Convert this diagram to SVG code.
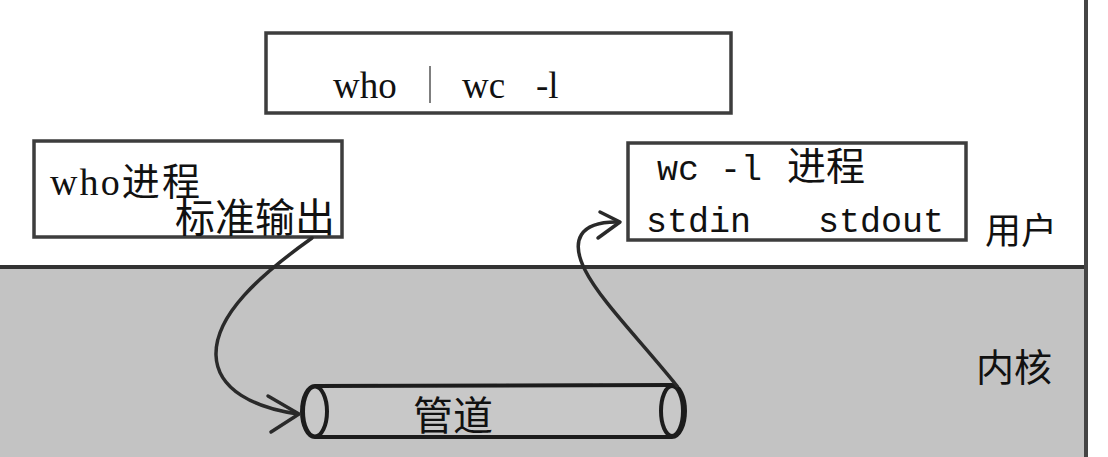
<svg xmlns="http://www.w3.org/2000/svg" width="1108" height="457" viewBox="0 0 1108 457">
<defs>
<style>
.box{fill:#fff;stroke:#3c3c3c;stroke-width:3.5}
.serif{font-family:"Liberation Serif","Noto Sans CJK SC",serif;fill:#111}
.mono{font-family:"Liberation Mono","Noto Sans CJK SC",monospace;fill:#111}
.cjk{font-family:"Noto Sans CJK SC","Noto Sans",sans-serif;fill:#111}
.wire{fill:none;stroke:#2a2a2a;stroke-width:3.5;stroke-linecap:round;stroke-linejoin:round}
</style>
<filter id="soft" x="-5%" y="-5%" width="110%" height="110%">
<feGaussianBlur stdDeviation="0.6"/>
</filter>
</defs>
<rect x="0" y="0" width="1108" height="457" fill="#ffffff"/>
<rect x="0" y="267" width="1086" height="190" fill="#c3c3c3"/>
<g id="divider" filter="url(#soft)">
<line x1="0" y1="267" x2="1086" y2="267" stroke="#333" stroke-width="4"/>
<line x1="1086" y1="0" x2="1086" y2="457" stroke="#444" stroke-width="4"/>
</g>
<g id="command">
<rect class="box" x="266" y="33" width="465" height="80" filter="url(#soft)"/>
<text class="serif" x="333" y="98" font-size="37">who</text>
<line x1="430" y1="66" x2="430" y2="103" stroke="#555" stroke-width="1.5"/>
<text class="serif" x="462" y="98" font-size="37">wc <tspan x="536">-l</tspan></text>
</g>
<g id="who-process">
<rect class="box" x="34" y="141" width="308" height="96" filter="url(#soft)"/>
<text class="serif" x="50" y="195" font-size="38" textLength="150">who进程</text>
<text class="cjk" x="175" y="232" font-size="40">标准输出</text>
</g>
<g id="wc-process">
<rect class="box" x="628" y="143" width="338" height="97" filter="url(#soft)"/>
<text class="mono" x="657" y="180" font-size="35">wc -l</text>
<text class="cjk" x="787" y="180" font-size="39">进程</text>
<text class="mono" x="646" y="232" font-size="35">stdin</text>
<text class="mono" x="818" y="232" font-size="35">stdout</text>
</g>
<g id="user-label">
<text class="cjk" x="985" y="244" font-size="36">用户</text>
</g>
<g id="kernel-label">
<text class="cjk" x="976" y="381" font-size="38">内核</text>
</g>
<g id="pipe" filter="url(#soft)">
<path d="M315,386 L672,385 A13,26 0 0 1 672,437 L315,437 A13,25.5 0 0 1 315,386 Z" fill="#c8c8c8" stroke="#1e1e1e" stroke-width="4"/>
<ellipse cx="315" cy="411.5" rx="12" ry="25" fill="#c8c8c8" stroke="#1e1e1e" stroke-width="4"/>
<ellipse cx="672" cy="411" rx="11" ry="25" fill="#c8c8c8" stroke="#1e1e1e" stroke-width="4"/>
</g>
<text class="cjk" x="413" y="430" font-size="40">管道</text>
<g id="connectors" filter="url(#soft)">
<path class="wire" d="M312,238 C260,275 215,315 216,355 C217,390 255,408 298,414"/>
<path class="wire" d="M268,396 L299,414 L271,432"/>
<path class="wire" d="M677,386 C640,340 600,300 585,270 C570,240 580,222 616,222"/>
<path class="wire" d="M600,212 L620,222 L598,238"/>
</g>
</svg>
